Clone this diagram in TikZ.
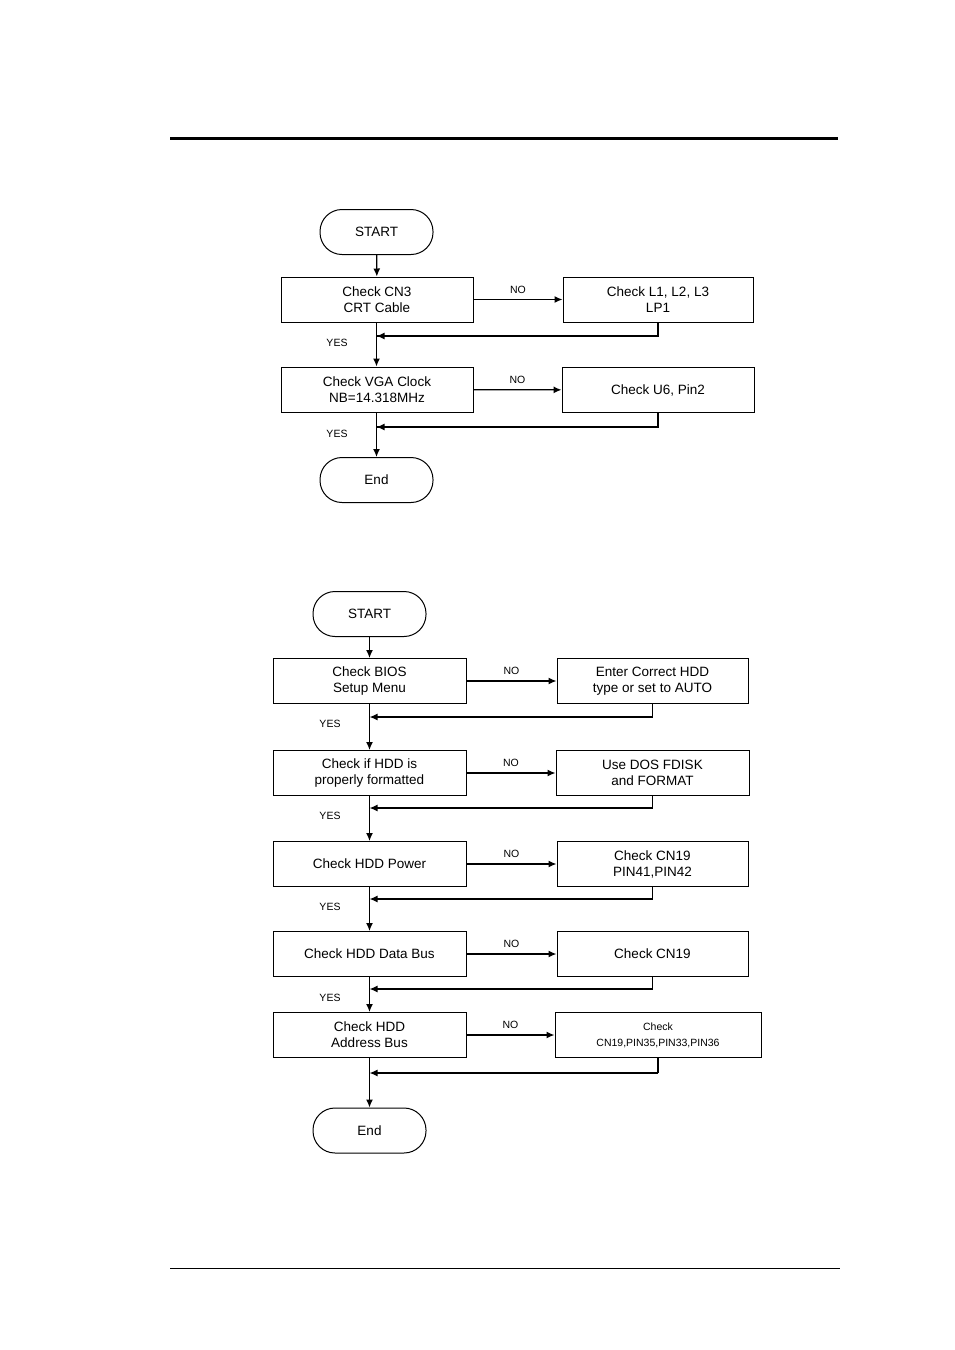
\documentclass[tikz,border=0pt]{standalone}
\usepackage{fontspec}
\setmainfont{Liberation Sans}
\usetikzlibrary{arrows.meta}
\begin{document}
\begin{tikzpicture}[x=1pt,y=-1pt,
  box/.style={draw,line width=1pt,minimum width=192pt,minimum height=45pt,inner sep=1pt,align=center,font=\fontsize{13.5}{16}\selectfont},
  term/.style={draw,line width=1pt,rounded corners=22pt,minimum width=113pt,minimum height=45pt,font=\fontsize{13.5}{16}\selectfont},
  lab/.style={font=\fontsize{10.5}{12}\selectfont},
  ar/.style={line width=1.3pt,-{Latex[length=8pt,width=7pt]}},
  ln/.style={line width=1.3pt}]
\useasboundingbox (0,0) rectangle (954,1350);
\draw[line width=3pt] (170,138) -- (838,138);
\draw[line width=1pt] (170,1268) -- (840,1268);
% chart 1
\node[term] (s1) at (376.5,232) {START};
\node[box] (a1) at (377,299.5) {Check CN3\\CRT Cable};
\node[box,minimum width=190pt] (b1) at (658,299.5) {Check L1, L2, L3\\LP1};
\node[box] (a2) at (377,389.5) {Check VGA Clock\\NB=14.318MHz};
\node[box] (b2) at (658,390) {Check U6, Pin2};
\node[term] (e1) at (376.5,480) {End};
\coordinate (j1) at (376.5,336);
\coordinate (j2) at (376.5,427);
\draw[ar] (s1) -- (a1);
\draw[ar] (a1) -- node[lab,above=2pt]{NO} (b1);
\draw[ln] (b1.south) |- (j1);
\draw[ar] (a1.south -| s1) -- (a2.north -| s1);
\draw[ar] (a2) -- node[lab,above=2pt]{NO} (b2);
\draw[ln] (b2.south) |- (j2);
\draw[ar] (a2.south -| e1) -- (e1);
\draw[ar] (b1.south |- j1) -- (j1);
\draw[ar] (b2.south |- j2) -- (j2);
\node[lab] (y1) at (337,343) {YES};
\node[lab] (y2) at (337,434) {YES};
% chart 2
\node[term] (s2) at (369.5,614) {START};
\node[box,minimum width=193pt] (c1) at (369.5,681) {Check BIOS\\Setup Menu};
\node[box,minimum width=191pt] (d1) at (652.5,681) {Enter Correct HDD\\type or set to AUTO};
\node[box,minimum width=193pt] (c2) at (369.5,773) {Check if HDD is\\properly formatted};
\node[box,minimum width=193pt] (d2) at (652.5,773) {Use DOS FDISK\\and FORMAT};
\node[box,minimum width=193pt] (c3) at (369.5,864) {Check HDD Power};
\node[box,minimum width=191pt] (d3) at (652.5,864) {Check CN19\\PIN41,PIN42};
\node[box,minimum width=193pt] (c4) at (369.5,954) {Check HDD Data Bus};
\node[box,minimum width=191pt] (d4) at (652.5,954) {Check CN19};
\node[box,minimum width=193pt] (c5) at (369.5,1035) {Check HDD\\Address Bus};
\node[box,minimum width=206pt,font=\fontsize{10.5}{16}\selectfont] (d5) at (658,1035) {Check\\CN19,PIN35,PIN33,PIN36};
\node[term] (e2) at (369.5,1130.5) {End};
\foreach \i/\y in {1/717,2/808,3/899,4/989,5/1073}{
  \coordinate (k\i) at (369.5,\y);
  \draw[ar] (c\i) -- node[lab,above=2pt]{NO} (d\i);
  \draw[ln] (d\i.south) -- (d\i.south |- k\i);
  \draw[ar] (d\i.south |- k\i) -- (k\i);
}
\draw[ar] (s2) -- (c1);
\draw[ar] (c1) -- (c2);
\draw[ar] (c2) -- (c3);
\draw[ar] (c3) -- (c4);
\draw[ar] (c4) -- (c5);
\draw[ar] (c5) -- (e2);
\node[lab] (y3) at (330,724) {YES};
\node[lab] (y4) at (330,816) {YES};
\node[lab] (y5) at (330,907) {YES};
\node[lab] (y6) at (330,998) {YES};
\end{tikzpicture}
\end{document}
